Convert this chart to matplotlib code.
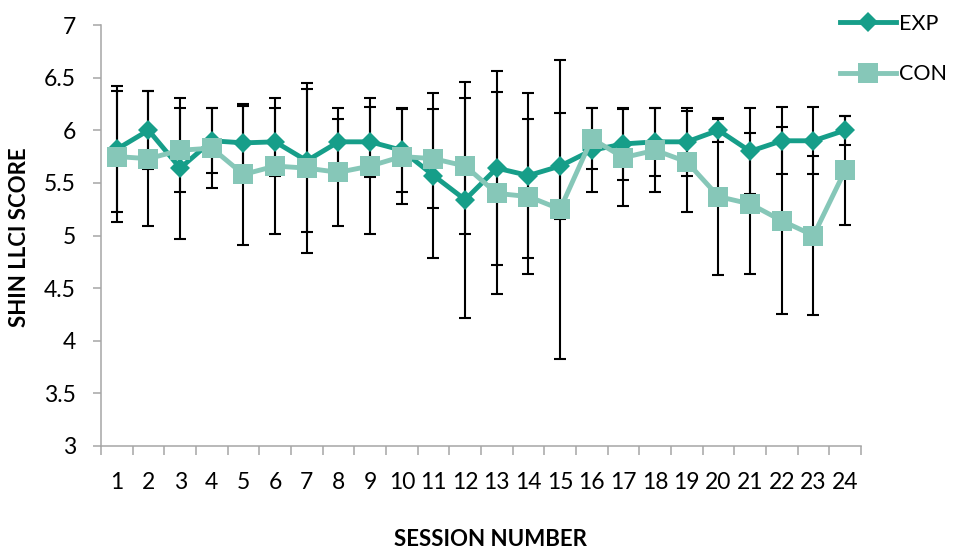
import matplotlib.pyplot as plt
import numpy as np

plt.rcParams['font.family'] = ['Lato', 'DejaVu Sans']

sessions = list(range(1, 25))

exp_mean = [5.82, 6.00, 5.64, 5.90, 5.88, 5.89, 5.71, 5.89, 5.89, 5.81, 5.57, 5.34,
             5.64, 5.57, 5.66, 5.81, 5.87, 5.89, 5.89, 6.00, 5.80, 5.90, 5.90, 6.00]
exp_err = [0.60, 0.37, 0.67, 0.31, 0.35, 0.32, 0.68, 0.32, 0.33, 0.40, 0.78, 1.12,
           0.92, 0.78, 0.50, 0.40, 0.34, 0.32, 0.32, 0.11, 0.41, 0.32, 0.32, 0.14]

con_mean = [5.75, 5.73, 5.81, 5.83, 5.58, 5.66, 5.64, 5.60, 5.66, 5.75, 5.73, 5.66,
            5.40, 5.37, 5.25, 5.92, 5.74, 5.81, 5.70, 5.37, 5.30, 5.14, 5.00, 5.62]
con_err = [0.62, 0.64, 0.40, 0.38, 0.67, 0.65, 0.81, 0.51, 0.65, 0.45, 0.47, 0.65,
           0.96, 0.74, 1.42, 0.29, 0.46, 0.40, 0.48, 0.75, 0.67, 0.89, 0.76, 0.52]

exp_color = '#169E89'
con_color = '#86C7B8'
axis_gray = '#A6A6A6'

fig = plt.figure(figsize=(9.54, 5.54), dpi=100)
ax = fig.add_axes([101 / 954, 1 - 446 / 554, 760 / 954, 421 / 554])

# error bars sit underneath the lines and markers
ax.errorbar(sessions, exp_mean, yerr=exp_err, fmt='none', ecolor='black',
            elinewidth=1.5, capsize=4.3, capthick=1.5, zorder=2)
ax.errorbar(sessions, con_mean, yerr=con_err, fmt='none', ecolor='black',
            elinewidth=1.5, capsize=4.3, capthick=1.5, zorder=2)

ax.plot(sessions, exp_mean, color=exp_color, lw=3.5, marker='D', markersize=10.5,
        markeredgewidth=0, label='EXP', zorder=3)
ax.plot(sessions, con_mean, color=con_color, lw=3.5, marker='s', markersize=14,
        markeredgewidth=0, label='CON', zorder=4)

ax.set_xlim(0.5, 24.5)
ax.set_ylim(3, 7)
ax.set_yticks(np.arange(3, 7.01, 0.5))
ax.set_yticklabels(['3', '3.5', '4', '4.5', '5', '5.5', '6', '6.5', '7'])
ax.set_xticks(sessions)
ax.set_xticks(np.arange(0.5, 24.6, 1), minor=True)

for side in ['top', 'right']:
    ax.spines[side].set_visible(False)
for side in ['left', 'bottom']:
    ax.spines[side].set_color(axis_gray)
    ax.spines[side].set_linewidth(1.1)

ax.tick_params(axis='y', direction='out', length=6, width=1.1, color=axis_gray,
               labelsize=16.5, pad=12)
ax.tick_params(axis='x', which='major', length=0, labelsize=16.5, pad=19)
ax.tick_params(axis='x', which='minor', direction='out', length=6.5, width=1.1,
               color=axis_gray)

fig.text(490.5 / 954, 1 - 540 / 554, 'SESSION NUMBER', ha='center', va='center',
         fontsize=16, fontweight='bold')
fig.text(20 / 954, 1 - 237 / 554, 'SHIN LLCI SCORE', ha='center', va='center',
         rotation=90, fontsize=16, fontweight='bold')

ax.legend(loc='upper left', bbox_to_anchor=(840 / 954, 1 - 14 / 554),
          bbox_transform=fig.transFigure, frameon=False, fontsize=15.5,
          handlelength=2.6, handletextpad=0.15, labelspacing=1.4,
          borderpad=0, borderaxespad=0)

fig.savefig('out.png', dpi=100)
